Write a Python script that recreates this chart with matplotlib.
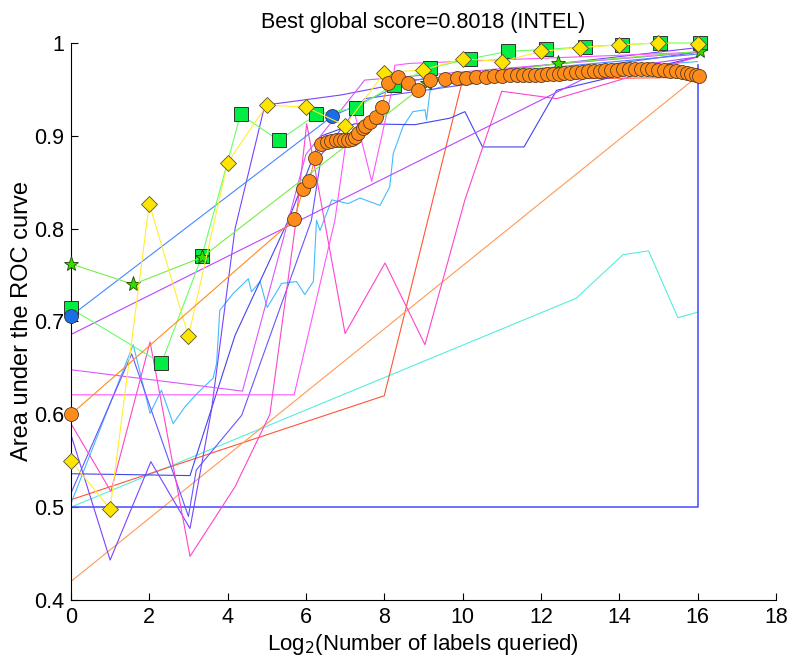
import matplotlib
matplotlib.use('Agg')
import matplotlib.pyplot as plt

plt.rcParams['font.family'] = ['Liberation Sans', 'DejaVu Sans']

# thin learner curves (no markers)
cyan_x = [0, 12.9, 14.1, 14.75, 15.5, 16.0]
cyan_y = [0.500, 0.725, 0.772, 0.776, 0.704, 0.710]

red_x = [0, 8.0, 10.0, 16.0]
red_y = [0.508, 0.620, 0.960, 0.963]

orange_x = [0, 16.0]
orange_y = [0.420, 0.964]

flat_x = [0, 16.0, 16.0]
flat_y = [0.500, 0.500, 0.976]

sky_x = [0, 1.59, 2.02, 2.31, 2.61, 2.91, 3.21, 3.63, 3.72, 3.80, 4.14, 4.53, 4.61, 4.83, 5.01,
         5.38, 5.76, 5.97, 6.19, 6.27, 6.36, 6.66, 7.08, 7.38, 7.89, 8.14, 8.23, 8.48, 8.73,
         9.04, 9.08, 9.17, 10.0, 16.0]
sky_y = [0.504, 0.675, 0.601, 0.626, 0.590, 0.608, 0.622, 0.639, 0.655, 0.712, 0.730, 0.746, 0.732,
         0.743, 0.715, 0.741, 0.743, 0.729, 0.743, 0.809, 0.798, 0.831, 0.827, 0.833, 0.825, 0.845,
         0.881, 0.910, 0.926, 0.928, 0.917, 0.949, 0.960, 0.980]

indigo_x = [0, 3.04, 4.19, 5.55, 6.40, 7.25, 8.78, 9.68, 10.06, 10.51, 11.57, 12.40, 16.0]
indigo_y = [0.536, 0.534, 0.685, 0.809, 0.900, 0.913, 0.912, 0.919, 0.926, 0.888, 0.888, 0.949, 0.985]

violet_x = [0, 1.0, 2.04, 3.04, 3.59, 4.19, 4.95, 6.90, 8.0, 8.8, 16.0]
violet_y = [0.578, 0.443, 0.549, 0.477, 0.605, 0.800, 0.933, 0.944, 0.953, 0.960, 0.995]

violet2_x = [0, 1.55, 3.0, 3.2, 4.36, 6.14, 6.40, 7.50, 16.0]
violet2_y = [0.515, 0.665, 0.490, 0.540, 0.599, 0.809, 0.880, 0.940, 0.990]

pink_x = [0, 1.02, 2.02, 3.04, 4.19, 5.08, 5.72, 6.02, 7.00, 8.02, 9.04, 10.06, 11.0, 12.4, 16.0]
pink_y = [0.590, 0.517, 0.678, 0.447, 0.522, 0.600, 0.800, 0.913, 0.687, 0.763, 0.675, 0.831,
          0.948, 0.940, 0.985]

magenta_x = [0, 5.70, 6.74, 7.17, 7.68, 8.19, 8.27, 8.65, 16.0]
magenta_y = [0.621, 0.621, 0.809, 0.937, 0.851, 0.948, 0.976, 0.978, 0.990]

purple_x = [0, 13.5, 16.0]
purple_y = [0.686, 0.970, 0.985]

lilac_x = [0, 4.38, 6.0, 7.5, 16.0]
lilac_y = [0.648, 0.625, 0.880, 0.960, 0.990]

# learners drawn with markers
blue_x = [0, 6.67, 8.7, 16.0]
blue_y = [0.706, 0.921, 0.960, 0.988]

square_x = [0, 2.31, 3.34, 4.33, 5.31, 6.27, 7.27, 8.25, 9.17, 10.19, 11.17, 12.14, 13.12, 14.06,
            15.04, 16.06]
square_y = [0.714, 0.655, 0.770, 0.923, 0.895, 0.923, 0.930, 0.955, 0.973, 0.983, 0.991, 0.993,
            0.996, 0.998, 1.000, 1.000]

star_x = [0, 1.59, 3.34, 9.10, 12.44, 16.06]
star_y = [0.762, 0.740, 0.769, 0.957, 0.978, 0.991]

diamond_x = [0, 1.0, 2.0, 3.0, 4.0, 5.0, 6.0, 7.0, 8.0, 9.0, 10.0, 11.0, 12.0, 13.0, 14.0, 15.0, 16.0]
diamond_y = [0.550, 0.498, 0.827, 0.684, 0.871, 0.933, 0.931, 0.911, 0.968, 0.971, 0.983, 0.980,
             0.991, 0.995, 0.998, 1.000, 0.999]

# best learner
best_x = [0, 5.70, 5.93, 6.08, 6.23, 6.38, 6.53, 6.65, 6.77, 6.88, 6.98, 7.08, 7.17, 7.25, 7.34,
          7.46, 7.52, 7.63, 7.78, 7.93, 8.10, 8.34, 8.61, 8.87, 9.17, 9.55, 9.85, 10.1, 10.35,
          10.6, 10.8, 11.0, 11.2, 11.4, 11.55, 11.7, 11.85, 12.0, 12.15, 12.3, 12.45, 12.6, 12.75,
          12.9, 13.05, 13.2, 13.35, 13.5, 13.65, 13.8, 13.95, 14.1, 14.25, 14.4, 14.55, 14.7,
          14.85, 15.0, 15.15, 15.3, 15.45, 15.6, 15.72, 15.84, 15.95, 16.05]
best_y = [0.600, 0.810, 0.843, 0.851, 0.876, 0.891, 0.893, 0.894, 0.895, 0.895, 0.895, 0.896,
          0.897, 0.899, 0.903, 0.908, 0.911, 0.915, 0.920, 0.931, 0.957, 0.963, 0.957, 0.949,
          0.960, 0.961, 0.962, 0.962, 0.963, 0.963, 0.964, 0.964, 0.965, 0.965, 0.965, 0.966,
          0.966, 0.966, 0.967, 0.967, 0.967, 0.968, 0.968, 0.969, 0.969, 0.970, 0.970, 0.970,
          0.971, 0.971, 0.971, 0.972, 0.972, 0.972, 0.972, 0.972, 0.972, 0.971, 0.971, 0.970,
          0.970, 0.969, 0.968, 0.967, 0.966, 0.964]

fig = plt.figure(figsize=(7.92, 6.61), dpi=100)
ax = fig.add_axes([0.0896, 0.0923, 0.890, 0.8427])

lw = 0.8
ax.plot(cyan_x, cyan_y, color='#55eedd', lw=lw)
ax.plot(red_x, red_y, color='#ff5533', lw=lw)
ax.plot(orange_x, orange_y, color='#ff9955', lw=lw)
ax.plot(flat_x, flat_y, color='#5555ff', lw=1.2)
ax.plot(sky_x, sky_y, color='#44bbff', lw=lw)
ax.plot(indigo_x, indigo_y, color='#4444ee', lw=lw)
ax.plot(violet_x, violet_y, color='#7744ff', lw=lw)
ax.plot(violet2_x, violet2_y, color='#6655ff', lw=lw)
ax.plot(pink_x, pink_y, color='#ff44cc', lw=lw)
ax.plot(magenta_x, magenta_y, color='#ff55ff', lw=lw)
ax.plot(purple_x, purple_y, color='#bb44ff', lw=lw)
ax.plot(lilac_x, lilac_y, color='#dd55ff', lw=lw)

# marker series, left-most markers sit on the y axis so don't clip them
mk = dict(clip_on=False, zorder=3)
ax.plot(blue_x, blue_y, color='#4488ff', lw=lw)
ax.plot(square_x, square_y, color='#66ff66', lw=lw, marker='s', ms=10,
        mfc='#00ee44', mec='#333333', mew=0.7, **mk)
ax.plot(blue_x[:2], blue_y[:2], ls='none', marker='o', ms=10,
        mfc='#1a6fe8', mec='#333333', mew=0.6, **mk)
ax.plot(star_x, star_y, color='#77ee44', lw=lw, marker='*', ms=11,
        mfc='#33dd00', mec='#224400', mew=0.6, **mk)
ax.plot(diamond_x, diamond_y, color='#ffee33', lw=lw, marker='D', ms=8.5,
        mfc='#ffe400', mec='#555533', mew=0.6, **mk)
ax.plot(best_x, best_y, color='#ff8c1a', lw=lw, marker='o', ms=10,
        mfc='#ff8c1a', mec='#5a3a1a', mew=0.6, **mk)

ax.set_xlim(0, 18)
ax.set_ylim(0.4, 1.0)
ax.set_xticks(range(0, 19, 2))
ax.set_yticks([0.4, 0.5, 0.6, 0.7, 0.8, 0.9, 1.0])
ax.set_yticklabels(['0.4', '0.5', '0.6', '0.7', '0.8', '0.9', '1'])
ax.tick_params(direction='in', length=5, labelsize=15.5, width=0.8, pad=5)
ax.spines['top'].set_visible(False)
ax.spines['right'].set_visible(False)
ax.set_xlabel('Log$_2$(Number of labels queried)', fontsize=16, labelpad=3)
ax.set_ylabel('Area under the ROC curve', fontsize=17, labelpad=1)
ax.set_title('Best global score=0.8018 (INTEL)', fontsize=15.5, pad=11)

plt.savefig('out.png', dpi=100)
